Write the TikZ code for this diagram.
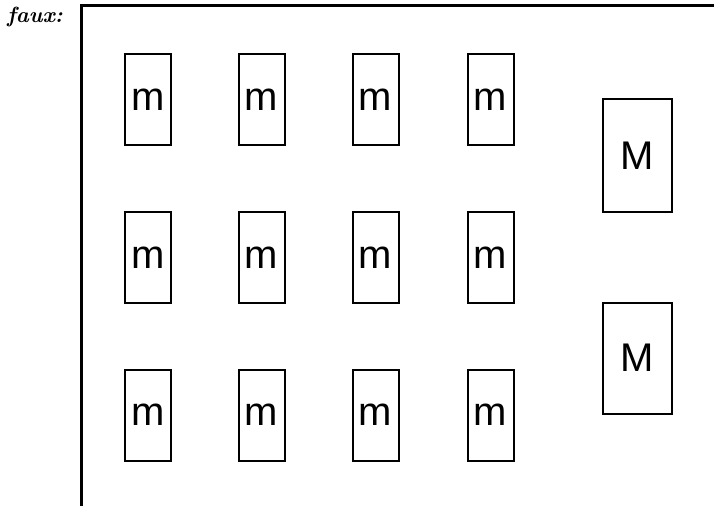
\documentclass[tikz,border=0pt]{standalone}
\usepackage{fontspec}
\setsansfont{Liberation Sans}
\begin{document}
\begin{tikzpicture}[
    x=1pt, y=-1pt,
    smallbox/.style={rectangle, draw, line width=2pt, minimum width=46pt,
                     minimum height=91pt, inner sep=0pt,
                     font=\fontsize{40}{40}\selectfont\sffamily},
    bigbox/.style={smallbox, minimum width=69pt, minimum height=111pt},
    frame/.style={line width=3pt},
  ]
    \useasboundingbox (0,0) rectangle (714,506);
    \node[font=\fontsize{22}{22}\selectfont\bfseries\itshape] (faux) at (35,17) {faux:};
    \coordinate (fbot) at (81,506);
    \coordinate (fcorner) at (81,5);
    \coordinate (fright) at (714,5);
    \draw[frame] (fbot) -- (fcorner) -- (fright);

    % grid of small boxes
    \foreach \y [count=\r] in {99.5, 257.5, 415} {
      \foreach \x [count=\c] in {148, 261.5, 375.5, 490.5} {
        \node[smallbox] (m-\r-\c) at (\x,\y) {m};
      }
    }

    \node[bigbox, minimum height=113pt] (M-1) at (637.5,155.5) {M};
    \node[bigbox] (M-2) at (637.5,358) {M};
  \end{tikzpicture}
\end{document}
